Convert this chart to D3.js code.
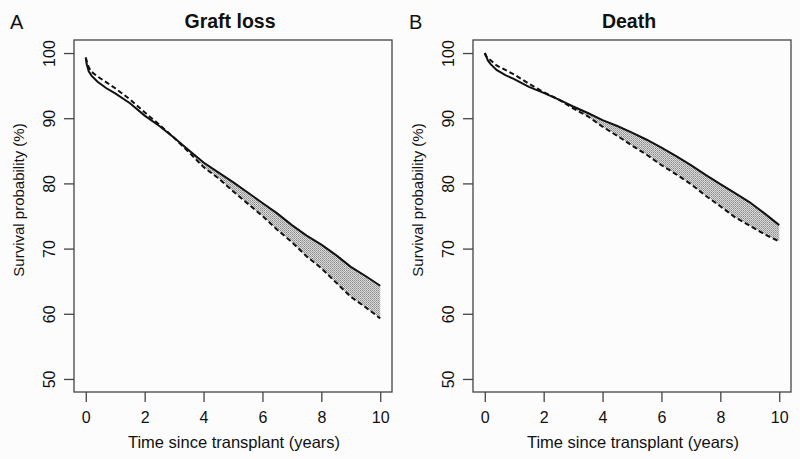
<!DOCTYPE html>
<html>
<head>
<meta charset="utf-8">
<script src="https://cdn.jsdelivr.net/npm/d3@7/dist/d3.min.js"></script>
<style>
  html, body { margin: 0; padding: 0; background: #fcfcfc; }
  svg { display: block; font-family: "Liberation Sans", Arial, Helvetica, sans-serif; }
</style>
</head>
<body>
<svg id="chart" width="800" height="459"></svg>
<script>
// ---- data ----
const times = [0, 0.03, 0.1, 0.2, 0.4, 0.7, 1.0, 1.5, 2.0, 2.5, 3.0, 3.5, 4.0, 4.5, 5.0, 5.5, 6.0, 6.5, 7.0, 7.5, 8.0, 8.5, 9.0, 9.5, 10.0];
const graftSolid  = [99.3, 98.3, 97.2, 96.5, 95.6, 94.6, 93.8, 92.3, 90.4, 88.8, 87.0, 85.1, 83.2, 81.7, 80.2, 78.6, 77.0, 75.4, 73.6, 72.0, 70.6, 69.0, 67.2, 65.8, 64.3];
const graftDashed = [99.3, 98.8, 97.8, 97.1, 96.4, 95.5, 94.6, 92.9, 90.9, 89.0, 87.0, 84.8, 82.5, 80.8, 78.8, 76.9, 75.0, 72.9, 71.0, 68.8, 67.0, 64.8, 62.6, 61.0, 59.3];
const deathSolid  = [100, 99.8, 98.9, 98.3, 97.4, 96.6, 96.0, 94.8, 93.9, 92.9, 91.8, 90.8, 89.7, 88.8, 87.8, 86.7, 85.5, 84.2, 82.8, 81.3, 79.9, 78.5, 77.1, 75.4, 73.6];
const deathDashed = [100, 99.6, 99.2, 98.9, 98.1, 97.4, 96.7, 95.3, 94.0, 92.9, 91.5, 90.3, 88.7, 87.3, 85.8, 84.4, 82.8, 81.4, 79.9, 78.1, 76.5, 74.8, 73.5, 72.2, 71.1];
const xTicks = [0, 2, 4, 6, 8, 10];
const yTicks = [50, 60, 70, 80, 90, 100];
const panelTitles = ["Graft loss", "Death"];
const panelLetters = ["A", "B"];
const xLabel = "Time since transplant (years)";
const yLabel = "Survival probability (%)";

const panels = [
  { title: panelTitles[0], letter: panelLetters[0], solid: graftSolid, dashed: graftDashed, ox: 0 },
  { title: panelTitles[1], letter: panelLetters[1], solid: deathSolid, dashed: deathDashed, ox: 399 }
];

const svg = d3.select("#chart");
const defs = svg.append("defs");
const pat = defs.append("pattern")
  .attr("id", "stipple").attr("patternUnits", "userSpaceOnUse")
  .attr("width", 2).attr("height", 2);
pat.append("rect").attr("width", 2).attr("height", 2).attr("fill", "#d8d8d8");
pat.append("rect").attr("x", 0).attr("y", 0).attr("width", 1).attr("height", 1).attr("fill", "#8c8c8c");
pat.append("rect").attr("x", 1).attr("y", 1).attr("width", 1).attr("height", 1).attr("fill", "#a8a8a8");

const box = { left: 74, right: 392, top: 40, bottom: 392 };
const axisColor = "#444";
const textColor = "#111";

panels.forEach(p => {
  const g = svg.append("g").attr("transform", `translate(${p.ox},0)`);
  const x = d3.scaleLinear().domain([-0.4, 10.4]).range([box.left, box.right]);
  const y = d3.scaleLinear().domain([48, 102]).range([box.bottom, box.top]);

  const rows = times.map((t, i) => ({ t, s: p.solid[i], d: p.dashed[i] }));

  // shaded region where solid above dashed
  const area = d3.area()
    .x(d => x(d.t))
    .y0(d => y(d.d))
    .y1(d => y(Math.max(d.s, d.d)));
  g.append("path").datum(rows).attr("d", area)
    .attr("fill", "url(#stipple)").attr("stroke", "none");

  const lineS = d3.line().x(d => x(d.t)).y(d => y(d.s));
  const lineD = d3.line().x(d => x(d.t)).y(d => y(d.d));
  g.append("path").datum(rows).attr("d", lineD)
    .attr("fill", "none").attr("stroke", "#111").attr("stroke-width", 2)
    .attr("stroke-dasharray", "5,3");
  g.append("path").datum(rows).attr("d", lineS)
    .attr("fill", "none").attr("stroke", "#111").attr("stroke-width", 2);

  // box
  g.append("rect")
    .attr("x", box.left).attr("y", box.top)
    .attr("width", box.right - box.left).attr("height", box.bottom - box.top)
    .attr("fill", "none").attr("stroke", axisColor).attr("stroke-width", 1.3);

  // x axis
  const xa = g.append("g").attr("transform", `translate(0,${box.bottom})`)
    .call(d3.axisBottom(x).tickValues(xTicks).tickSize(10).tickFormat(d3.format("d")));
  xa.select(".domain").remove();
  xa.selectAll(".tick line").attr("stroke", axisColor).attr("stroke-width", 1.3);
  xa.selectAll(".tick text").attr("y", 31).attr("dy", 0)
    .attr("fill", textColor).style("font-size", "16px");

  // y axis
  const ya = g.append("g").attr("transform", `translate(${box.left},0)`)
    .call(d3.axisLeft(y).tickValues(yTicks).tickSize(10).tickFormat(d3.format("d")));
  ya.select(".domain").remove();
  ya.selectAll(".tick line").attr("stroke", axisColor).attr("stroke-width", 1.3);
  ya.selectAll(".tick text")
    .attr("x", null).attr("dy", 0)
    .attr("transform", "translate(-19,0) rotate(-90)")
    .attr("text-anchor", "middle")
    .attr("fill", textColor).style("font-size", "16px");

  // axis titles
  g.append("text").attr("x", (box.left + box.right) / 2 + 1).attr("y", 448)
    .attr("text-anchor", "middle").attr("fill", textColor)
    .style("font-size", "16.5px").text(xLabel);
  g.append("text")
    .attr("transform", `translate(24,200) rotate(-90)`)
    .attr("text-anchor", "middle").attr("fill", textColor)
    .style("font-size", "15px").text(yLabel);

  // title and letter
  g.append("text").attr("x", (box.left + box.right) / 2 - 3).attr("y", 28)
    .attr("text-anchor", "middle").attr("fill", textColor)
    .style("font-size", "19.5px").style("font-weight", "bold").text(p.title);
  g.append("text").attr("x", 10).attr("y", 29)
    .attr("fill", textColor).style("font-size", "20px").text(p.letter);
});
</script>
</body>
</html>
